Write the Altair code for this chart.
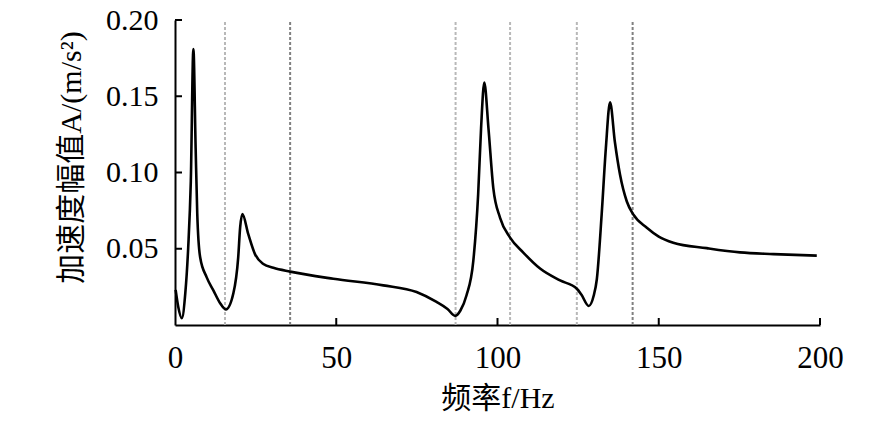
import altair as alt
import pandas as pd

# acceleration amplitude spectrum
freq_hz = [0.2, 1.0, 2.1, 3.2, 4.1, 4.9, 5.7, 6.4, 6.9, 7.8, 9.8, 11.9, 14.0, 15.8,
           18.1, 19.6, 20.2, 20.9, 22.7, 24.8, 27.4, 30.5, 35.7, 49.1, 64.6, 74.9,
           81.1, 84.5, 86.9, 88.5, 90.4, 92.5, 94.0, 94.9, 95.9, 97.2, 98.7, 100.8,
           103.9, 108.0, 113.2, 119.4, 124.6, 126.0, 128.3, 129.8, 130.8, 132.3,
           133.6, 134.9, 136.4, 138.0, 140.1, 142.1, 146.3, 150.0, 154.5, 164.9,
           175.2, 185.6, 199.0]
amp = [0.023, 0.012, 0.0045, 0.021, 0.051, 0.094, 0.181, 0.116, 0.073, 0.0444,
       0.0314, 0.0227, 0.0143, 0.0102, 0.0208, 0.0444, 0.064, 0.0727, 0.0597,
       0.0465, 0.040, 0.0375, 0.0350, 0.0303, 0.026, 0.0216, 0.0151, 0.0105,
       0.0060, 0.0095, 0.0195, 0.042, 0.0857, 0.1288, 0.159, 0.129, 0.0898,
       0.0703, 0.0573, 0.0475, 0.037, 0.0292, 0.0238, 0.0200, 0.0125, 0.019,
       0.030, 0.0725, 0.116, 0.146, 0.120, 0.0985, 0.081, 0.0725, 0.0638, 0.058,
       0.054, 0.0504, 0.0476, 0.0465, 0.0455]

# dashed marker lines
marks_light = [15.5, 87.0, 103.9, 124.6]
marks_dark = [35.7, 141.9]

x_ticks = [0, 50, 100, 150, 200]
y_ticks = [0.05, 0.10, 0.15, 0.20]

SERIF = "Liberation Serif"
TITLE_FONT = "Liberation Serif, Noto Sans CJK SC"

df = pd.DataFrame({"f": freq_hz, "A": amp})

x_scale = alt.Scale(domain=[0, 200], nice=False)
y_scale = alt.Scale(domain=[0, 0.2], nice=False, zero=True)

curve = alt.Chart(df).mark_line(color="black", strokeWidth=2.6, interpolate="monotone").encode(
    x=alt.X(
        "f:Q",
        scale=x_scale,
        axis=alt.Axis(
            values=x_ticks,
            title="频率f/Hz",
            grid=False,
            tickSize=0,
            domainColor="black",
            domainWidth=2,
            labelFont=SERIF,
            labelFontSize=31,
            labelColor="black",
            labelBaseline="alphabetic",
            labelPadding=42,
            labelFlush=False,
            titleFont=TITLE_FONT,
            titleFontSize=30,
            titleFontWeight="normal",
            titleColor="black",
            titleBaseline="alphabetic",
            titleY=82,
        ),
    ),
    y=alt.Y(
        "A:Q",
        scale=y_scale,
        axis=alt.Axis(
            values=y_ticks,
            format=".2f",
            title="加速度幅值A/(m/s²)",
            grid=False,
            tickSize=0,
            domainColor="black",
            domainWidth=2,
            labelFont=SERIF,
            labelFontSize=30,
            labelColor="black",
            labelPadding=17,
            labelFlush=False,
            titleFont=TITLE_FONT,
            titleFontSize=30,
            titleFontWeight="normal",
            titleColor="black",
            titleBaseline="middle",
            titleAlign="center",
            titleAngle=270,
            titleX=-104,
            titleY=137,
        ),
    ),
)


def dashed(values, color):
    return (
        alt.Chart(pd.DataFrame({"f": values}))
        .mark_rule(color=color, strokeWidth=2, strokeDash=[3, 2])
        .encode(x=alt.X("f:Q", scale=x_scale), y=alt.datum(0), y2=alt.datum(0.2))
    )


light = dashed(marks_light, "#b8b8b8")
dark = dashed(marks_dark, "#808080")

# inward tick marks
yt = (
    alt.Chart(pd.DataFrame({"A": y_ticks}))
    .mark_rule(color="black", strokeWidth=2)
    .encode(y=alt.Y("A:Q", scale=y_scale), x=alt.value(0), x2=alt.value(7))
)
xt = (
    alt.Chart(pd.DataFrame({"f": x_ticks[1:]}))
    .mark_rule(color="black", strokeWidth=2)
    .encode(x=alt.X("f:Q", scale=x_scale), y=alt.value(305), y2=alt.value(298))
)

chart = (
    alt.layer(light, dark, curve, yt, xt)
    .properties(
        width=645,
        height=305,
        autosize=alt.AutoSizeParams(type="none"),
        padding={"left": 167, "top": 12, "right": 58, "bottom": 89},
        background="white",
    )
    .configure_view(strokeWidth=0)
)

chart.save("out.html", embed_options={"renderer": "svg", "actions": False})
